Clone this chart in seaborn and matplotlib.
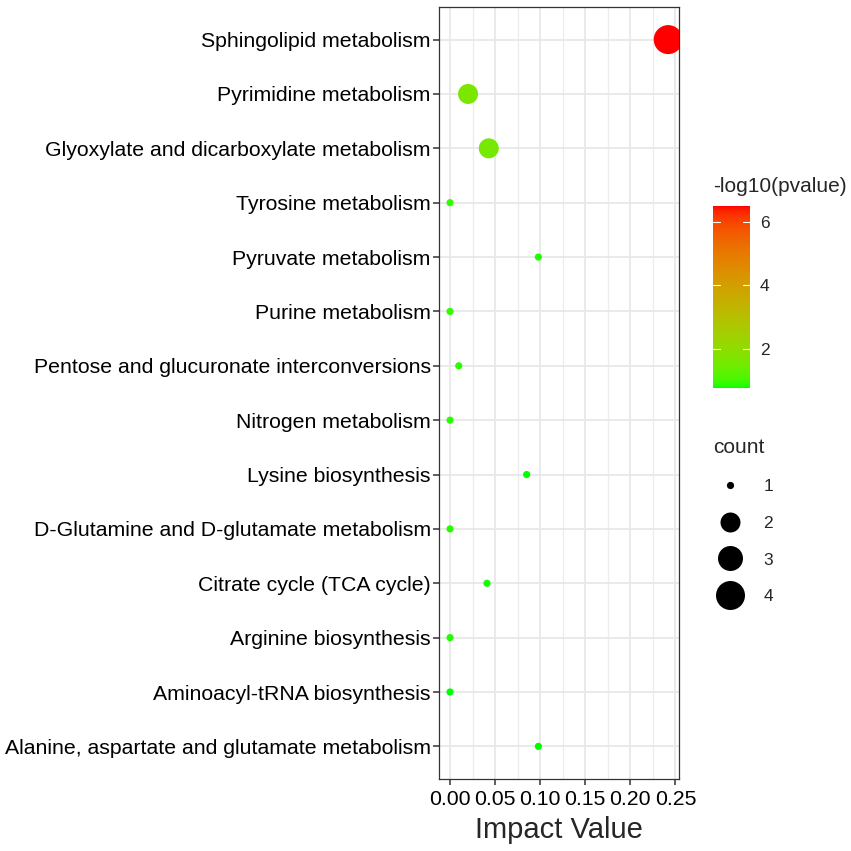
import numpy as np
import pandas as pd
import matplotlib
matplotlib.use('Agg')
import matplotlib.pyplot as plt
import seaborn as sns
from matplotlib.colors import ListedColormap, Normalize
from matplotlib.lines import Line2D
from matplotlib.ticker import MultipleLocator
import matplotlib.colorbar as mcolorbar

# data (top row first)
pathways = [
    'Sphingolipid metabolism',
    'Pyrimidine metabolism',
    'Glyoxylate and dicarboxylate metabolism',
    'Tyrosine metabolism',
    'Pyruvate metabolism',
    'Purine metabolism',
    'Pentose and glucuronate interconversions',
    'Nitrogen metabolism',
    'Lysine biosynthesis',
    'D-Glutamine and D-glutamate metabolism',
    'Citrate cycle (TCA cycle)',
    'Arginine biosynthesis',
    'Aminoacyl-tRNA biosynthesis',
    'Alanine, aspartate and glutamate metabolism',
]
impact = [0.242, 0.020, 0.043, 0.0, 0.098, 0.0, 0.0097, 0.0, 0.085, 0.0, 0.041, 0.0, 0.0, 0.098]
neglogp = [6.49, 1.65, 1.60, 0.95, 0.85, 0.95, 0.90, 0.90, 0.80, 0.88, 0.82, 0.85, 0.80, 0.78]
counts = [4, 2, 2, 1, 1, 1, 1, 1, 1, 1, 1, 1, 1, 1]

df = pd.DataFrame({'pathway': pathways, 'impact': impact,
                   'neglogp': neglogp, 'count': counts})

# green -> red gradient interpolated in CIELAB (like ggplot's scale_colour_gradient)
WHITE = np.array([0.95047, 1.0, 1.08883])
M = np.array([[0.4124, 0.3576, 0.1805], [0.2126, 0.7152, 0.0722], [0.0193, 0.1192, 0.9505]])

def to_lab(rgb):
    c = np.where(rgb <= 0.04045, rgb / 12.92, ((rgb + 0.055) / 1.055) ** 2.4)
    t = (M @ c) / WHITE
    f = np.where(t > 0.008856, np.cbrt(t), 7.787 * t + 16 / 116)
    return np.array([116 * f[1] - 16, 500 * (f[0] - f[1]), 200 * (f[1] - f[2])])

def from_lab(lab):
    fy = (lab[0] + 16) / 116
    fx = fy + lab[1] / 500
    fz = fy - lab[2] / 200
    f = np.array([fx, fy, fz])
    t = np.where(f ** 3 > 0.008856, f ** 3, (f - 16 / 116) / 7.787) * WHITE
    c = np.clip(np.linalg.inv(M) @ t, 0, 1)
    return np.clip(np.where(c <= 0.0031308, 12.92 * c, 1.055 * c ** (1 / 2.4) - 0.055), 0, 1)

lo, hi = to_lab(np.array([0.0, 1.0, 0.0])), to_lab(np.array([1.0, 0.0, 0.0]))
cmap = ListedColormap([from_lab(lo + (hi - lo) * s) for s in np.linspace(0, 1, 256)])
vmin, vmax = min(neglogp), max(neglogp)

sns.set_style('white')
plt.rcParams['font.family'] = ['Liberation Sans', 'DejaVu Sans']

fig = plt.figure(figsize=(8.51, 8.51), dpi=100)
ax = fig.add_axes([0.516, 0.0846, 0.282, 0.9072])

size_map = {1: 27, 2: 207, 3: 324, 4: 436}
sns.scatterplot(data=df, x='impact', y='pathway', hue='neglogp', size='count',
                palette=cmap, hue_norm=(vmin, vmax), sizes=size_map,
                linewidth=0, legend=False, ax=ax, zorder=3)
for coll in ax.collections:
    coll.set_clip_on(True)
    coll.set_clip_box(ax.bbox)

n = len(pathways)
ax.set_ylim(n - 0.4, -0.6)
ax.set_xlim(-0.0121, 0.2541)
ax.set_xticks([0, 0.05, 0.10, 0.15, 0.20, 0.25])
ax.set_xticklabels(['0.00', '0.05', '0.10', '0.15', '0.20', '0.25'])
ax.xaxis.set_minor_locator(MultipleLocator(0.025))
ax.grid(True, which='major', color='#e8e8e8', linewidth=1.3, zorder=0)
ax.grid(True, which='minor', axis='x', color='#ececec', linewidth=0.9, zorder=0)
ax.set_axisbelow(True)
for s in ax.spines.values():
    s.set_color('#333333')
    s.set_linewidth(0.9)
ax.tick_params(axis='both', which='major', length=4, width=1.1, color='#333333',
               labelsize=15.3, labelcolor='black', left=True, bottom=True)
ax.tick_params(axis='y', pad=2)
ax.tick_params(axis='x', pad=4)
ax.tick_params(axis='x', which='minor', length=0)
ax.set_xlabel('Impact Value', fontsize=21, labelpad=5)
ax.set_ylabel('')

# colour bar legend
cax = fig.add_axes([713 / 851, 1 - 388 / 851, 37 / 851, 182 / 851])
cb = mcolorbar.ColorbarBase(cax, cmap=cmap, norm=Normalize(vmin, vmax), orientation='vertical')
cb.set_ticks([2, 4, 6])
cb.outline.set_visible(False)
cax.tick_params(length=0, labelsize=12.5, pad=7)
for t in [2, 4, 6]:
    cax.plot([0, 0.2], [t, t], color='white', lw=0.8, transform=cax.get_yaxis_transform())
    cax.plot([0.8, 1.0], [t, t], color='white', lw=0.8, transform=cax.get_yaxis_transform())
fig.text(713 / 851, 1 - 186 / 851, '-log10(pvalue)', fontsize=15, va='center', ha='left')

# size legend
handles = [Line2D([], [], marker='o', linestyle='', color='black', markeredgewidth=0,
                  markersize=np.sqrt(size_map[c])) for c in [1, 2, 3, 4]]
leg = fig.legend(handles, ['1', '2', '3', '4'], title='count', loc='upper left',
                 bbox_to_anchor=(706 / 851, 1 - 431 / 851), frameon=False,
                 fontsize=12.5, title_fontsize=15, alignment='left',
                 labelspacing=1.25, handletextpad=0.9, borderaxespad=0)

fig.savefig('out.png', dpi=100)
